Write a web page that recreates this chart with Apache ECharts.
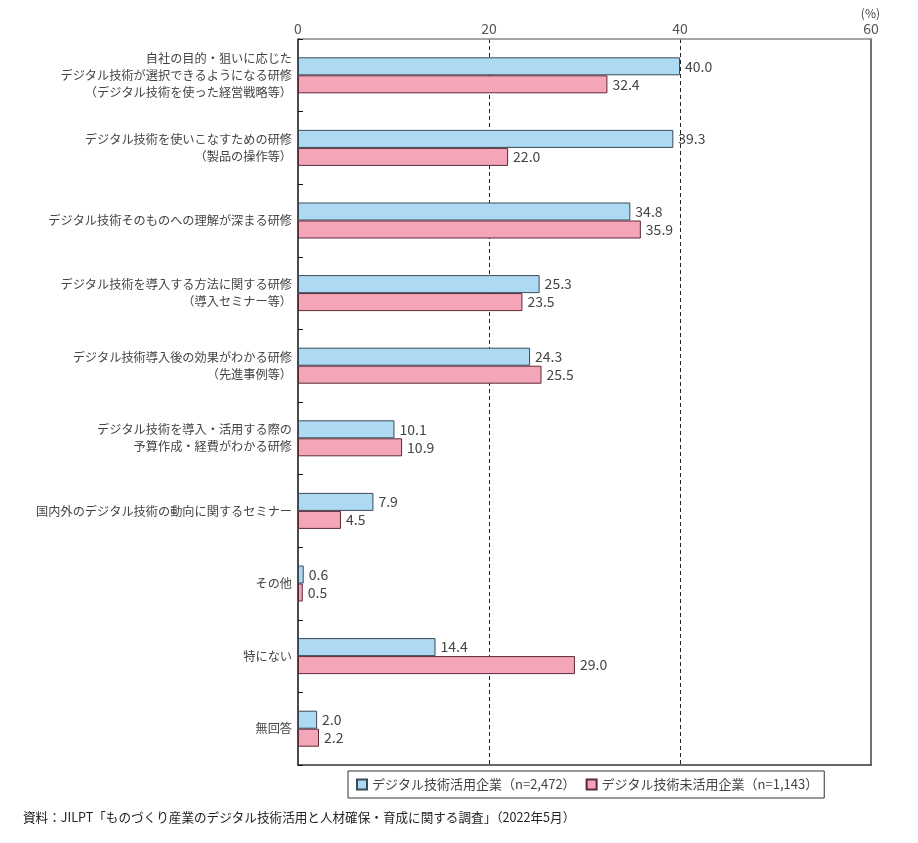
<!DOCTYPE html>
<html><head><meta charset="utf-8">
<script src="https://cdn.jsdelivr.net/npm/echarts@6/dist/echarts.min.js"></script>
<style>html,body{margin:0;padding:0;background:#fff}#c{width:918px;height:843px}</style>
</head><body><div id="c"></div>
<script>
const categories = [
  "自社の目的・狙いに応じた\nデジタル技術が選択できるようになる研修\n（デジタル技術を使った経営戦略等）",
  "デジタル技術を使いこなすための研修\n（製品の操作等）",
  "デジタル技術そのものへの理解が深まる研修",
  "デジタル技術を導入する方法に関する研修\n（導入セミナー等）",
  "デジタル技術導入後の効果がわかる研修\n（先進事例等）",
  "デジタル技術を導入・活用する際の\n予算作成・経費がわかる研修",
  "国内外のデジタル技術の動向に関するセミナー",
  "その他",
  "特にない",
  "無回答"
];
const seriesNames = ["デジタル技術活用企業（n=2,472）", "デジタル技術未活用企業（n=1,143）"];
const usingValues = [40.0, 39.3, 34.8, 25.3, 24.3, 10.1, 7.9, 0.6, 14.4, 2.0];
const notUsingValues = [32.4, 22.0, 35.9, 23.5, 25.5, 10.9, 4.5, 0.5, 29.0, 2.2];
const xTicks = [0, 20, 40, 60];
const unitLabel = "(%)";
const sourceText = "資料：JILPT「ものづくり産業のデジタル技術活用と人材確保・育成に関する調査」（2022年5月）";

const FONT = '"Noto Sans CJK JP", "Noto Sans", sans-serif';
const chart = echarts.init(document.getElementById('c'), null, {renderer: 'canvas'});
const labelStyle = {
  show: true, position: 'right', distance: 5,
  fontFamily: FONT, fontSize: 14, color: '#444',
  formatter: p => p.value.toFixed(1)
};
chart.setOption({
  animation: false,
  backgroundColor: '#fff',
  title: [
    {text: unitLabel, right: 38, top: 7, padding: 0, textStyle: {fontFamily: FONT, fontSize: 12, fontWeight: 'normal', color: '#444'}},
    {text: sourceText, left: 18, top: 806, textStyle: {fontFamily: FONT, fontSize: 12.6, fontWeight: 'normal', color: '#222'}}
  ],
  legend: {
    left: 348, top: 771, width: 475,
    padding: [7, 6, 7, 8],
    borderColor: '#333', borderWidth: 1,
    itemWidth: 10, itemHeight: 10, itemGap: 10,
    icon: 'rect',
    textStyle: {fontFamily: FONT, fontSize: 13, color: '#444'},
    data: seriesNames
  },
  grid: {left: 298, right: 47, top: 39, bottom: 78, containLabel: false},
  xAxis: [
    {
      type: 'value', position: 'top', min: xTicks[0], max: xTicks[xTicks.length - 1], interval: 20,
      axisLine: {show: true, onZero: false, lineStyle: {color: '#888', width: 1.5}},
      axisTick: {show: false},
      axisLabel: {margin: 3, fontFamily: FONT, fontSize: 14, color: '#555'},
      splitLine: {show: true, showMinLine: false, showMaxLine: false, lineStyle: {color: '#222', type: [4, 3], width: 1}}
    },
    {
      type: 'value', position: 'bottom', min: xTicks[0], max: xTicks[xTicks.length - 1], interval: 20,
      axisLine: {show: true, onZero: false, lineStyle: {color: '#333', width: 1.5}},
      axisTick: {show: false}, axisLabel: {show: false}, splitLine: {show: false}
    }
  ],
  yAxis: [
    {
      type: 'category', data: categories, inverse: true,
      axisLine: {show: true, onZero: false, lineStyle: {color: '#111', width: 1.5}},
      axisTick: {show: true, inside: true, length: 5, lineStyle: {color: '#111'}},
      axisLabel: {margin: 6, fontFamily: FONT, fontSize: 12.2, color: '#444', lineHeight: 17, align: 'right'}
    },
    {
      type: 'category', data: categories, inverse: true, position: 'right',
      axisLine: {show: true, onZero: false, lineStyle: {color: '#444', width: 1.5}},
      axisTick: {show: false}, axisLabel: {show: false}
    }
  ],
  series: [
    {
      name: seriesNames[0], type: 'bar', data: usingValues, barWidth: 18, barGap: '0%',
      itemStyle: {color: '#aed9f2', borderColor: '#3b4a5a', borderWidth: 1},
      label: labelStyle
    },
    {
      name: seriesNames[1], type: 'bar', data: notUsingValues, barWidth: 18, barGap: '0%',
      itemStyle: {color: '#f4a6b8', borderColor: '#5a2a36', borderWidth: 1},
      label: labelStyle
    }
  ]
});
</script></body></html>
